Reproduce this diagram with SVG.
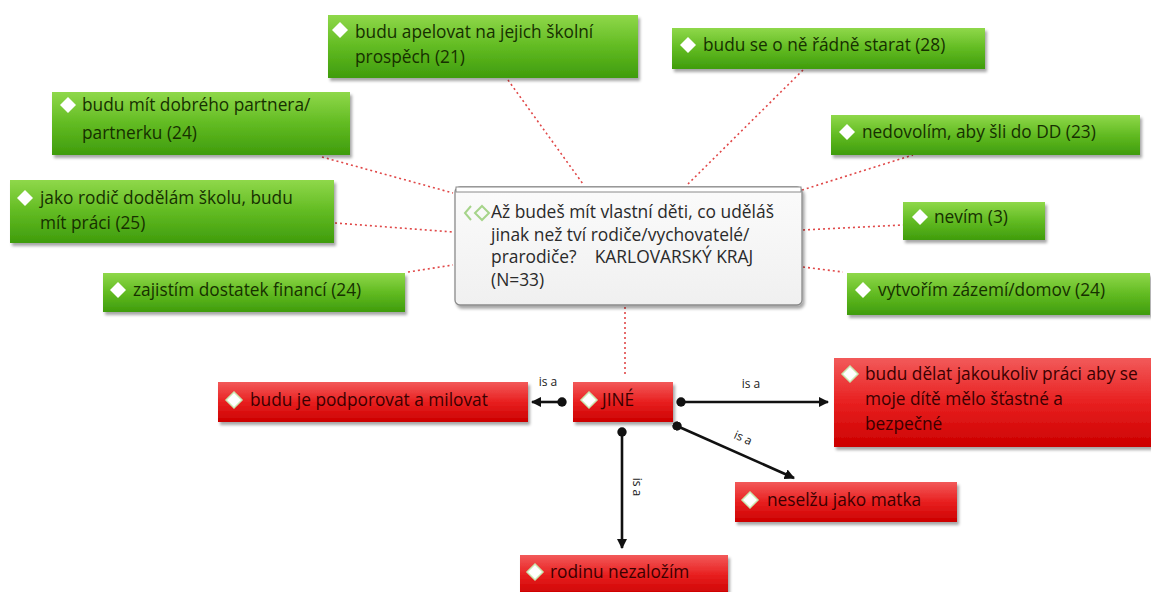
<svg xmlns="http://www.w3.org/2000/svg" width="1151" height="592" viewBox="0 0 1151 592">
<defs>
  <linearGradient id="gg" x1="0" y1="0" x2="0" y2="1">
    <stop offset="0" stop-color="#8fd84a"/>
    <stop offset="0.5" stop-color="#62bb22"/>
    <stop offset="1" stop-color="#3f9c0c"/>
  </linearGradient>
  <linearGradient id="rg" x1="0" y1="0" x2="0" y2="1">
    <stop offset="0" stop-color="#f25a5a"/>
    <stop offset="0.5" stop-color="#e82020"/>
    <stop offset="1" stop-color="#cc0000"/>
  </linearGradient>
  <linearGradient id="cg" x1="0" y1="0" x2="0" y2="1">
    <stop offset="0" stop-color="#fbfbfb"/>
    <stop offset="1" stop-color="#f0f0f0"/>
  </linearGradient>
  <filter id="sh" x="-5%" y="-10%" width="110%" height="130%">
    <feDropShadow dx="2" dy="3" stdDeviation="1.5" flood-color="#000" flood-opacity="0.35"/>
  </filter>
  <marker id="ah" viewBox="0 0 10 10" refX="9" refY="5" markerWidth="4" markerHeight="4" orient="auto-start-reverse" markerUnits="strokeWidth">
    <path d="M0,0 L10,5 L0,10 z" fill="#111"/>
  </marker>
  <marker id="dot" viewBox="0 0 10 10" refX="5" refY="5" markerWidth="3.6" markerHeight="3.6" orient="auto" markerUnits="strokeWidth">
    <circle cx="5" cy="5" r="5" fill="#111"/>
  </marker>
</defs>
<style>
  .g { fill: url(#gg); filter: url(#sh); }
  .r { fill: url(#rg); filter: url(#sh); }
  .t { font-family: "Open Sans", "DejaVu Sans", sans-serif; font-size: 17.3px; font-weight: 500; }
  .ct { font-family: "Open Sans", "DejaVu Sans", sans-serif; font-size: 17.4px; font-weight: 400; fill: #2a2a2a; }
  .gt { fill: #163000; }
  .rt { fill: #3a0000; }
  .dm { fill: #ffffff; }
  .rdm { fill: #ffffff; stroke: #c8e6b0; stroke-width: 1.5; }
  .dl { stroke: #e04848; stroke-width: 1.6; stroke-dasharray: 2 3; fill: none; }
  .sl { stroke: #111; stroke-width: 2.6; fill: none; marker-start: url(#dot); marker-end: url(#ah); }
  .lb { font-family: "Open Sans", "DejaVu Sans", sans-serif; font-size: 12px; fill: #222; }
</style>
<rect width="1151" height="592" fill="#ffffff"/>

<g id="connectors">
  <line class="dl" x1="508" y1="80" x2="583" y2="184"/>
  <line class="dl" x1="803" y1="70" x2="688" y2="184"/>
  <line class="dl" x1="322" y1="157" x2="453" y2="193"/>
  <line class="dl" x1="335" y1="223" x2="453" y2="232"/>
  <line class="dl" x1="408" y1="272" x2="453" y2="265"/>
  <line class="dl" x1="802" y1="190" x2="913" y2="155"/>
  <line class="dl" x1="803" y1="230" x2="903" y2="225"/>
  <line class="dl" x1="803" y1="267" x2="843" y2="272"/>
  <line class="dl" x1="625" y1="307" x2="625" y2="376"/>
  <line class="sl" x1="562" y1="402" x2="532" y2="402"/>
  <line class="sl" x1="681" y1="402" x2="828" y2="402"/>
  <line class="sl" x1="677" y1="426" x2="794" y2="478"/>
  <line class="sl" x1="622" y1="432" x2="622" y2="548"/>
  <text class="lb" x="548" y="386" text-anchor="middle">is a</text>
  <text class="lb" x="751" y="388" text-anchor="middle">is a</text>
  <text class="lb" x="743" y="442" text-anchor="middle" transform="rotate(24 743 438)">is a</text>
  <text class="lb" x="637" y="491" text-anchor="middle" transform="rotate(90 637 487)">is a</text>
</g>

<g id="center">
  <rect x="455" y="187" width="347" height="118" rx="5" fill="url(#cg)" stroke="#8a8a8a" stroke-width="1.3" filter="url(#sh)"/>
  <rect x="456" y="187" width="345" height="5" fill="#ffffff" stroke="#8a8a8a" stroke-width="1"/>
  <polyline points="471,206 465,213 471,220" fill="none" stroke="#a6d48a" stroke-width="2"/>
  <polygon points="482,206 489,213 482,220 475,213" fill="none" stroke="#a6d48a" stroke-width="2"/>
  <text class="ct" xml:space="preserve"><tspan x="491" y="218">Až budeš mít vlastní děti, co uděláš</tspan><tspan x="491" y="240.5">jinak než tví rodiče/vychovatelé/</tspan><tspan x="491" y="263">prarodiče?    KARLOVARSKÝ KRAJ</tspan><tspan x="491" y="285.5">(N=33)</tspan></text>
</g>

<g id="n-apelovat">
  <rect class="g" x="328" y="15" width="310" height="63"/>
  <polygon class="dm" points="340,22 348,30 340,38 332,30"/>
  <text class="t gt"><tspan x="355" y="38">budu apelovat na jejich školní</tspan><tspan x="355" y="63">prospěch (21)</tspan></text>
</g>
<g id="n-starat">
  <rect class="g" x="672" y="28" width="313" height="41"/>
  <polygon class="dm" points="688,37 696,45 688,53 680,45"/>
  <text class="t gt" x="703" y="51">budu se o ně řádně starat (28)</text>
</g>
<g id="n-partnera">
  <rect class="g" x="52" y="92" width="298" height="63"/>
  <polygon class="dm" points="68,97 76,105 68,113 60,105"/>
  <text class="t gt"><tspan x="82" y="111">budu mít dobrého partnera/</tspan><tspan x="82" y="139">partnerku (24)</tspan></text>
</g>
<g id="n-skola">
  <rect class="g" x="10" y="180" width="324" height="63"/>
  <polygon class="dm" points="25,190 33,198 25,206 17,198"/>
  <text class="t gt"><tspan x="40" y="204">jako rodič dodělám školu, budu</tspan><tspan x="40" y="229">mít práci (25)</tspan></text>
</g>
<g id="n-financi">
  <rect class="g" x="103" y="273" width="302" height="39"/>
  <polygon class="dm" points="118,282 126,290 118,298 110,290"/>
  <text class="t gt" x="133" y="296">zajistím dostatek financí (24)</text>
</g>
<g id="n-dd">
  <rect class="g" x="831" y="115" width="309" height="40"/>
  <polygon class="dm" points="847,124 855,132 847,140 839,132"/>
  <text class="t gt" x="862" y="138">nedovolím, aby šli do DD (23)</text>
</g>
<g id="n-nevim">
  <rect class="g" x="903" y="202" width="142" height="38"/>
  <polygon class="dm" points="920,209 928,217 920,225 912,217"/>
  <text class="t gt" x="934" y="223">nevím (3)</text>
</g>
<g id="n-domov">
  <rect class="g" x="847" y="273" width="303" height="42"/>
  <polygon class="dm" points="863,282 871,290 863,298 855,290"/>
  <text class="t gt" x="878" y="296">vytvořím zázemí/domov (24)</text>
</g>

<g id="n-jine">
  <rect class="r" x="573" y="382" width="100" height="40"/>
  <polygon class="rdm" points="589,392 597,400 589,408 581,400"/>
  <text class="t rt" x="602" y="406">JINÉ</text>
</g>
<g id="n-podporovat">
  <rect class="r" x="218" y="382" width="310" height="40"/>
  <polygon class="rdm" points="234,392 242,400 234,408 226,400"/>
  <text class="t rt" x="250" y="406">budu je podporovat a milovat</text>
</g>
<g id="n-prace">
  <rect class="r" x="834" y="358" width="317" height="89"/>
  <polygon class="rdm" points="850,366 858,374 850,382 842,374"/>
  <text class="t rt"><tspan x="865" y="380">budu dělat jakoukoliv práci aby se</tspan><tspan x="865" y="405">moje dítě mělo šťastné a</tspan><tspan x="865" y="430">bezpečné</tspan></text>
</g>
<g id="n-matka">
  <rect class="r" x="735" y="482" width="222" height="40"/>
  <polygon class="rdm" points="750,492 758,500 750,508 742,500"/>
  <text class="t rt" x="767" y="506">neselžu jako matka</text>
</g>
<g id="n-rodina">
  <rect class="r" x="520" y="555" width="208" height="40"/>
  <polygon class="rdm" points="535,564 543,572 535,580 527,572"/>
  <text class="t rt" x="550" y="578">rodinu nezaložím</text>
</g>
</svg>
